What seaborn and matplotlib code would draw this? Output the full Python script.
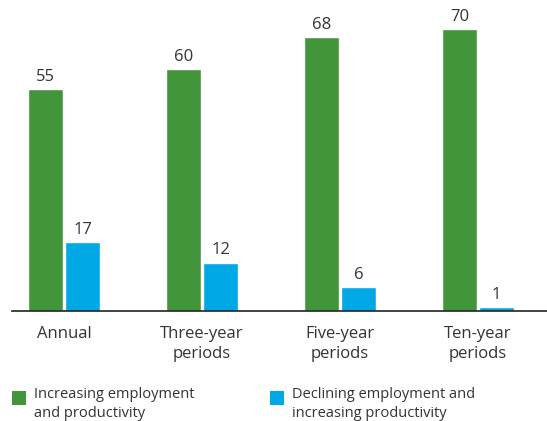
import pandas as pd
import matplotlib
matplotlib.use("Agg")
import matplotlib.pyplot as plt
import seaborn as sns
from matplotlib.patches import Rectangle

# data
periods = ["Annual", "Three-year\nperiods", "Five-year\nperiods", "Ten-year\nperiods"]
series = ["Increasing employment\nand productivity",
          "Declining employment and\nincreasing productivity"]
increasing = [55, 60, 68, 70]
declining = [17, 12, 6, 1]
colors = ["#43953c", "#00a9e6"]

df = pd.DataFrame({
    "period": periods * 2,
    "series": [series[0]] * 4 + [series[1]] * 4,
    "value": increasing + declining,
})

sns.set_style("white")
plt.rcParams["font.family"] = ["Open Sans", "DejaVu Sans"]
text_color = "#333333"

W, H = 547, 421
fig = plt.figure(figsize=(W / 100, H / 100), dpi=100)
ax = fig.add_axes([12 / W, 1 - 311 / H, 535 / W, 291 / H])

sns.barplot(data=df, x="period", y="value", hue="series", palette=colors,
            width=0.54, gap=0.07, ax=ax, legend=False, saturation=1)

for c in ax.containers:
    ax.bar_label(c, padding=3, fontsize=12, color=text_color)

ax.set_ylim(0, 72.2)
ax.set_xlim(-0.377, 3.5)
ax.set_xlabel("")
ax.set_ylabel("")
ax.set_yticks([])
sns.despine(ax=ax, left=True, right=True, top=True)
ax.spines["bottom"].set_color("#222222")
ax.spines["bottom"].set_linewidth(1.2)
ax.tick_params(axis="x", length=0, pad=11, labelsize=12, labelcolor=text_color)
for t in ax.get_xticklabels():
    t.set_linespacing(1.35)

# legend below the chart, squares aligned with the first text line
legend_x = [12, 270]
for x0, label, col in zip(legend_x, series, colors):
    fig.add_artist(Rectangle((x0 / W, 1 - 405 / H), 14 / W, 14 / H,
                             transform=fig.transFigure, facecolor=col,
                             edgecolor="none"))
    fig.text((x0 + 22) / W, 1 - 387 / H, label, ha="left", va="top",
             fontsize=10.5, color=text_color, linespacing=1.4)

fig.savefig("out.png", dpi=100)
